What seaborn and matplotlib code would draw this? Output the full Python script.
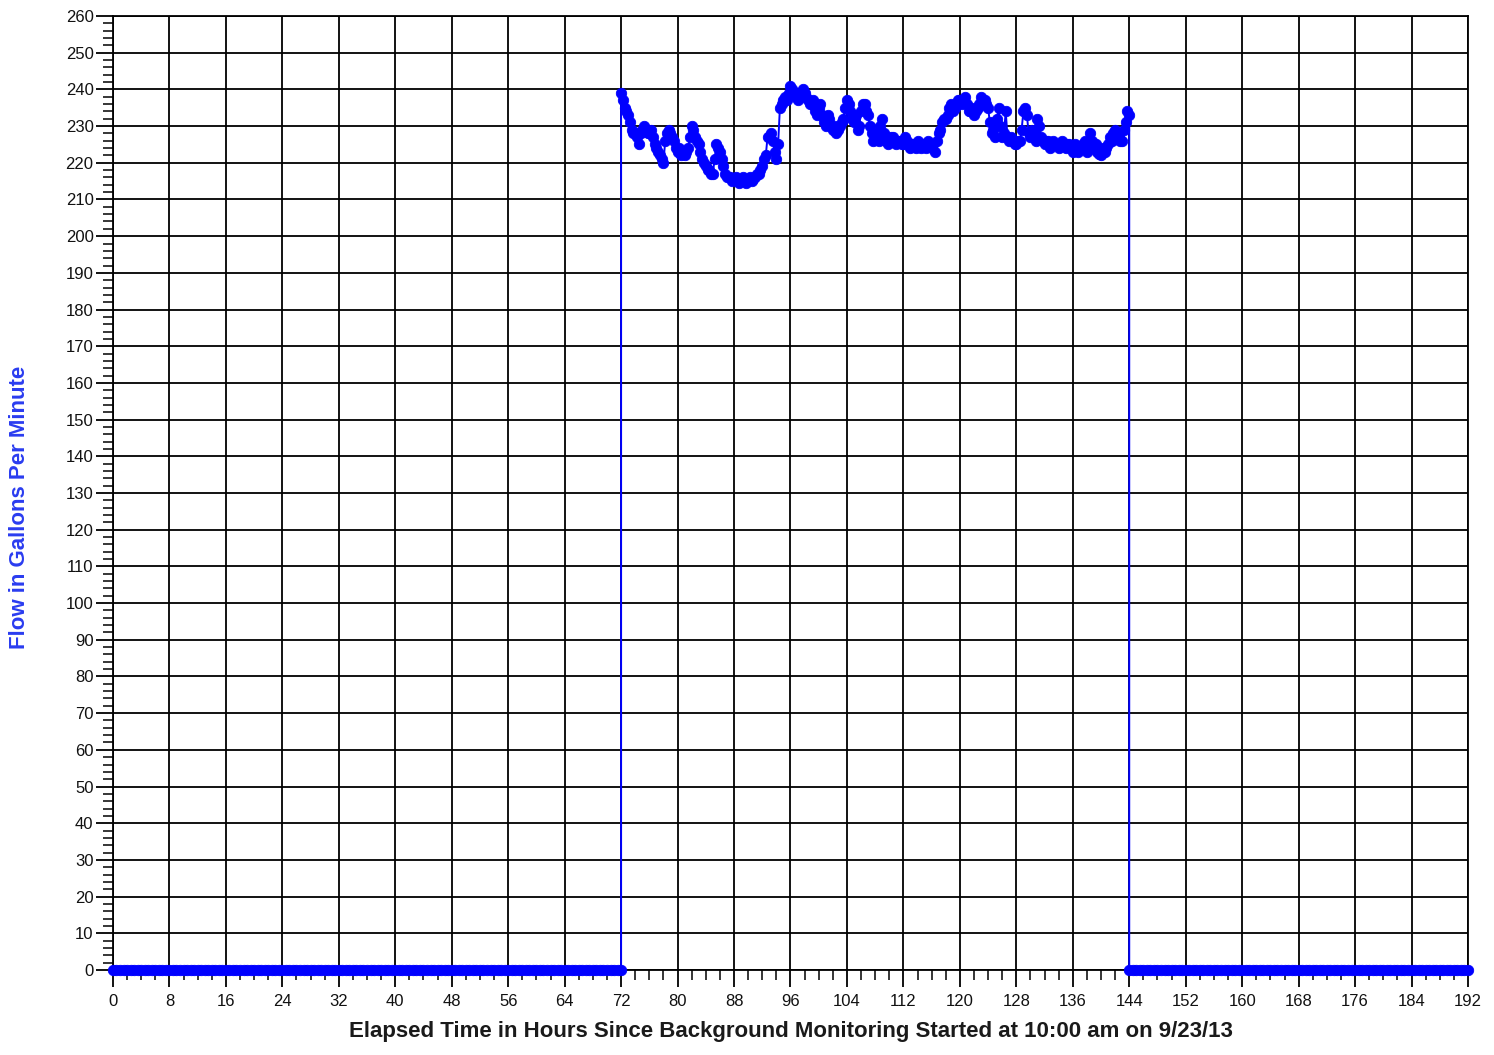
import numpy as np
import pandas as pd
import matplotlib
matplotlib.use("Agg")
import matplotlib.pyplot as plt
from matplotlib.ticker import MultipleLocator
import seaborn as sns

pump_start = 72.0
pump_end = 144.0

# Readings on the half hour, 72.0 .. 144.0
flow_half_hour = [
    239, 235, 233, 229, 228, 225, 229, 229, 228, 227,
    224, 222, 220, 228, 228, 226, 223, 222, 222, 224,
    230, 227, 225, 221, 219, 218, 217, 225, 223, 219,
    216, 216, 215.5, 215, 215, 215, 215.5, 215, 216, 217,
    219, 222, 227, 226, 221, 235, 237, 237, 241, 239,
    237, 239, 239, 237, 236, 234, 235, 233, 230, 232,
    229, 228, 230, 232, 237, 234, 231, 229, 234, 236,
    233, 228, 227, 226, 232, 226, 226, 227, 225, 226,
    225, 226, 224, 225, 226, 224, 225, 226, 224, 223,
    228, 231, 232, 235, 234, 236, 237, 237, 236, 234,
    233, 235, 238, 237, 235, 228, 227, 235, 227, 234,
    226, 226, 225, 226, 234, 233, 227, 228, 232, 227,
    225, 226, 225, 225, 224, 226, 224, 225, 223, 224,
    224, 225, 223, 228, 224, 223, 222, 223, 225, 226,
    229, 227, 226, 231, 233,
]
# Readings at quarter past / quarter to, 72.25 .. 143.75
flow_quarter_hour = [
    237, 234, 231, 228, 227, 228, 230, 228, 229, 225,
    223, 221, 226, 229, 227, 224, 224, 223, 223, 227,
    229, 226, 223, 220, 218, 217, 221, 224, 221, 217,
    216, 215, 216, 214.5, 216, 214.5, 216, 215.5, 217, 218,
    221, 227, 228, 223, 225, 236, 238, 239, 240, 238,
    238, 240, 238, 236, 237, 233, 236, 231, 233, 230,
    230, 229, 231, 235, 236, 232, 233, 230, 236, 234,
    230, 226, 228, 230, 228, 225, 227, 226, 226, 225,
    227, 225, 225, 224, 225, 225, 224, 225, 225, 226,
    229, 232, 233, 236, 235, 237, 236, 238, 234, 235,
    234, 236, 236, 236, 231, 229, 232, 230, 228, 227,
    227, 225, 226, 229, 235, 228, 229, 226, 230, 226,
    226, 224, 226, 225, 225, 225, 225, 224, 225, 223,
    224, 226, 224, 226, 225, 222.5, 224, 224, 227, 228,
    228, 226, 229, 234,
]

half_hours = np.arange(pump_start, pump_end + 0.25, 0.5)
quarter_hours = np.arange(pump_start + 0.25, pump_end, 0.5)
assert len(half_hours) == len(flow_half_hour)
assert len(quarter_hours) == len(flow_quarter_hour)

pump = pd.DataFrame({
    "hours": np.concatenate([half_hours, quarter_hours]),
    "flow": np.concatenate([flow_half_hour, flow_quarter_hour]),
}).sort_values("hours")

# Background (before) and recovery (after) periods: no flow
background_hours = np.arange(0.0, pump_start + 0.25, 0.5)
recovery_hours = np.arange(pump_end, 192.0 + 0.25, 0.5)
background = pd.DataFrame({"hours": background_hours, "flow": [0.0] * len(background_hours)})
recovery = pd.DataFrame({"hours": recovery_hours, "flow": [0.0] * len(recovery_hours)})

df = pd.concat([background, pump, recovery], ignore_index=True)

x_ticks = list(range(0, 193, 8))
y_ticks = list(range(0, 261, 10))

sns.set_style("ticks")
plt.rcParams["font.family"] = ["Liberation Sans", "DejaVu Sans"]

fig = plt.figure(figsize=(14.94, 10.55), dpi=100)
ax = fig.add_axes([0.0756, 0.0806, 0.9070, 0.9042])

sns.lineplot(
    data=df, x="hours", y="flow", ax=ax, sort=False, estimator=None,
    color="#0000ff", linewidth=1.4, marker="o", markersize=7.5,
    markeredgecolor="#0000ff", markeredgewidth=0.6, zorder=4,
)
for ln in ax.lines:
    ln.set_clip_on(False)

ax.set_xlim(0, 192)
ax.set_ylim(0, 260)
ax.set_xticks(x_ticks)
ax.set_yticks(y_ticks)
ax.xaxis.set_minor_locator(MultipleLocator(2))
ax.yaxis.set_minor_locator(MultipleLocator(2))
ax.tick_params(axis="both", which="major", direction="out", length=12,
               width=1.3, color="black", labelsize=12, labelcolor="#111111", pad=2)
ax.tick_params(axis="x", which="major", pad=5)
ax.tick_params(axis="both", which="minor", direction="out", length=7,
               width=1.1, color="black")
ax.grid(True, which="major", color="black", linewidth=1.3, zorder=2)
for side in ax.spines.values():
    side.set_visible(True)
    side.set_color("black")
    side.set_linewidth(1.3)
    side.set_zorder(3)

ax.set_xlabel("Elapsed Time in Hours Since Background Monitoring Started at 10:00 am on 9/23/13",
              fontsize=16, fontweight="bold", color="#1a1a1a", labelpad=9)
ax.set_ylabel("Flow in Gallons Per Minute", fontsize=16, fontweight="bold",
              color="#2a3cf0")
ax.yaxis.set_label_coords(-0.061, 0.485)

fig.savefig("out.png", dpi=100)
